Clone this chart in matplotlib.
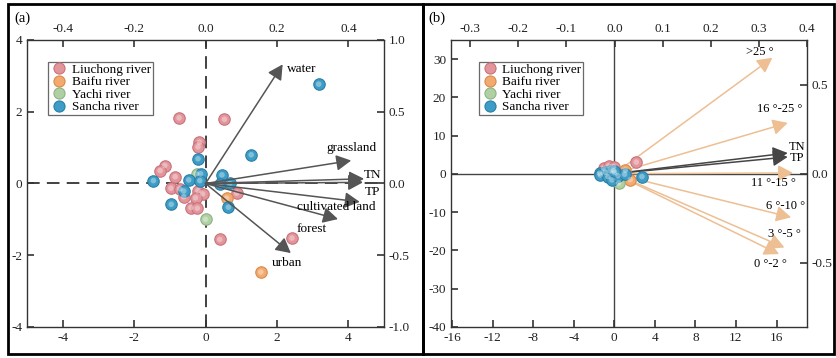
import matplotlib
matplotlib.use('Agg')
import matplotlib.pyplot as plt
from matplotlib.lines import Line2D
from matplotlib.patches import Rectangle

plt.rcParams['font.family'] = ['Liberation Serif', 'DejaVu Serif']
plt.rcParams['axes.unicode_minus'] = False

# ---- data ----
rivers = ['Liuchong river', 'Baifu river', 'Yachi river', 'Sancha river']
river_colors = ['#E3959C', '#F2AA6E', '#AFD0A2', '#3E9DC6']
river_edges = ['#C9737B', '#D98A4C', '#8FB383', '#2A7FA6']

# panel (a) sample scores (x, y)
a_liuchong_x = [-0.74, 0.53, -0.17, -0.21, -1.14, -1.27, -0.85, -0.97, -0.72, -0.61, -0.21, -0.08, -0.28, 0.87, -0.41, -0.23, 0.40, 2.42]
a_liuchong_y = [1.83, 1.79, 1.15, 1.02, 0.50, 0.36, 0.19, -0.13, -0.15, -0.37, -0.20, -0.29, -0.40, -0.27, -0.67, -0.69, -1.56, -1.52]
a_baifu_x = [0.59, 1.55]
a_baifu_y = [-0.41, -2.47]
a_yachi_x = [-0.25, 0.00]
a_yachi_y = [0.27, -1.00]
a_sancha_x = [-0.21, 1.28, 3.17, -0.14, 0.46, -1.46, -0.47, -0.16, 0.40, 0.68, -0.61, -0.96, 0.64]
a_sancha_y = [0.69, 0.80, 2.77, 0.27, 0.24, 0.08, 0.10, 0.08, -0.01, 0.00, -0.21, -0.58, -0.66]

# panel (a) loadings
a_vars = ['water', 'grassland', 'TN', 'TP', 'cultivated land', 'forest', 'urban']
a_load_x = [0.216, 0.408, 0.444, 0.441, 0.432, 0.371, 0.239]
a_load_y = [0.83, 0.16, 0.033, 0.008, -0.128, -0.248, -0.485]

# panel (b) sample scores
b_liuchong_x = [-1.06, -0.56, -0.07, 2.17]
b_liuchong_y = [1.5, 2.1, 1.9, 3.1]
b_baifu_x = [1.09, 1.58]
b_baifu_y = [1.0, -1.5]
b_yachi_x = [0.43]
b_yachi_y = [-2.4]
b_sancha_x = [-1.45, -1.38, -0.89, -0.39, 0.03, -0.62, -0.23, 0.37, 1.02, 2.73, -0.07]
b_sancha_y = [0.2, -0.26, 0.44, 0.78, 0.44, -0.7, -1.57, -0.44, -0.08, -0.7, 0.8]

# panel (b) loadings
b_vars = ['>25 °', '16 °-25 °', 'TN', 'TP', '11 °-15 °', '6 °-10 °', '3 °-5 °', '0 °-2 °']
b_load_x = [0.328, 0.360, 0.360, 0.360, 0.371, 0.367, 0.353, 0.342]
b_load_y = [0.650, 0.285, 0.116, 0.094, 0.004, -0.245, -0.414, -0.451]
b_colors = ['#EDBF93', '#EDBF93', '#454545', '#454545', '#EDBF93', '#EDBF93', '#EDBF93', '#EDBF93']


def spheres(ax, x, y, color, edge):
    ax.scatter(x, y, s=68, color=color, edgecolors=edge, linewidths=0.8, zorder=3)
    ax.scatter(x, y, s=16, color='white', alpha=0.35, edgecolors='none', zorder=4)


def style(ax):
    for s in ax.spines.values():
        s.set_color('#333333')
        s.set_linewidth(1.0)
    ax.tick_params(direction='in', length=5, width=1.2, colors='#333333', labelsize=9.5, labelcolor='#222222')


fig = plt.figure(figsize=(8.37, 3.58), dpi=100)

# ---------- panel (a) ----------
rect_a = [0.0323, 0.0866, 0.4265, 0.8017]
ax = fig.add_axes(rect_a)
ax.set_xlim(-5, 5)
ax.set_ylim(-4, 4)
ax.set_xticks([-4, -2, 0, 2, 4])
ax.set_yticks([-4, -2, 0, 2, 4])
style(ax)
ax.axhline(0, color='#333333', lw=1.3, dashes=(7, 4), zorder=1)
ax.axvline(0, color='#333333', lw=1.3, dashes=(7, 4), zorder=1)
for xs, ys, c, e in [(a_liuchong_x, a_liuchong_y, river_colors[0], river_edges[0]),
                     (a_baifu_x, a_baifu_y, river_colors[1], river_edges[1]),
                     (a_yachi_x, a_yachi_y, river_colors[2], river_edges[2]),
                     (a_sancha_x, a_sancha_y, river_colors[3], river_edges[3])]:
    spheres(ax, xs, ys, c, e)

axa2 = fig.add_axes(rect_a, frameon=False)
axa2.set_xlim(-0.5, 0.5)
axa2.set_ylim(-1, 1)
axa2.xaxis.tick_top()
axa2.yaxis.tick_right()
axa2.set_xticks([-0.4, -0.2, 0.0, 0.2, 0.4])
axa2.set_yticks([-1.0, -0.5, 0.0, 0.5, 1.0])
axa2.set_xticklabels(['-0.4', '-0.2', '0.0', '0.2', '0.4'])
axa2.set_yticklabels(['-1.0', '-0.5', '0.0', '0.5', '1.0'])
style(axa2)
a_offsets = [(14, -3), (0, 9), (6, 3), (7, -7), (-17, -4), (-19, -7), (-3, -7)]
for name, lx, ly, off in zip(a_vars, a_load_x, a_load_y, a_offsets):
    axa2.annotate('', xy=(lx, ly), xytext=(0, 0),
                  arrowprops=dict(arrowstyle='-|>,head_length=0.45,head_width=0.24', mutation_scale=20,
                                  color='#555555', lw=1.1, shrinkA=0, shrinkB=0), zorder=5)
    axa2.annotate(name, xy=(lx, ly), xytext=off, textcoords='offset points',
                  ha='center', va='center', fontsize=9.5, zorder=6)

handles = [Line2D([], [], marker='o', ls='none', color=c, markersize=8, markeredgecolor=e, markeredgewidth=0.8)
           for c, e in zip(river_colors, river_edges)]
leg = axa2.legend(handles, rivers, loc='upper left', bbox_to_anchor=(0.06, 0.925), fontsize=9.5,
                  frameon=True, fancybox=False, edgecolor='#444444', borderpad=0.15,
                  labelspacing=0.02, handletextpad=0.3, handlelength=1.3, borderaxespad=0)
leg.get_frame().set_linewidth(0.9)

# ---------- panel (b) ----------
rect_b = [0.5388, 0.0866, 0.4253, 0.8017]
bx = fig.add_axes(rect_b)
bx.set_xlim(-16.1, 19.0)
bx.set_ylim(-40, 35)
bx.set_xticks([-16, -12, -8, -4, 0, 4, 8, 12, 16])
bx.set_yticks([-40, -30, -20, -10, 0, 10, 20, 30])
style(bx)
bx.axhline(0, color='#444444', lw=1.0, zorder=1)
bx.axvline(0, color='#444444', lw=1.0, zorder=1)

bxa2 = fig.add_axes(rect_b, frameon=False)
bxa2.set_xlim(-0.34, 0.40)
bxa2.set_ylim(-0.86, 0.75)
bxa2.xaxis.tick_top()
bxa2.yaxis.tick_right()
bxa2.set_xticks([-0.3, -0.2, -0.1, 0.0, 0.1, 0.2, 0.3, 0.4])
bxa2.set_xticklabels(['-0.3', '-0.2', '-0.1', '0.0', '0.1', '0.2', '0.3', '0.4'])
bxa2.set_yticks([-0.5, 0.0, 0.5])
bxa2.set_yticklabels(['-0.5', '0.0', '0.5'])
style(bxa2)
b_offsets = [(-9, 4), (-6, 10), (7, 4), (7, -1), (-14, -7), (-4, 8), (0, 10), (-6, -7)]
for name, lx, ly, c, off in zip(b_vars, b_load_x, b_load_y, b_colors, b_offsets):
    bxa2.annotate('', xy=(lx, ly), xytext=(0, 0),
                  arrowprops=dict(arrowstyle='-|>,head_length=0.45,head_width=0.24', mutation_scale=20,
                                  color=c, lw=1.1, shrinkA=0, shrinkB=0), zorder=2)
    bxa2.annotate(name, xy=(lx, ly), xytext=off, textcoords='offset points',
                  ha='center', va='center', fontsize=9, zorder=6)

# points drawn on a top overlay sharing the score scale
bxa3 = fig.add_axes(rect_b, frameon=False)
bxa3.set_xlim(bx.get_xlim())
bxa3.set_ylim(bx.get_ylim())
bxa3.axis('off')
for xs, ys, c, e in [(b_liuchong_x, b_liuchong_y, river_colors[0], river_edges[0]),
                     (b_baifu_x, b_baifu_y, river_colors[1], river_edges[1]),
                     (b_yachi_x, b_yachi_y, river_colors[2], river_edges[2]),
                     (b_sancha_x, b_sancha_y, river_colors[3], river_edges[3])]:
    spheres(bxa3, xs, ys, c, e)
leg = bxa3.legend(handles, rivers, loc='upper left', bbox_to_anchor=(0.079, 0.925), fontsize=9.5,
                  frameon=True, fancybox=False, edgecolor='#444444', borderpad=0.15,
                  labelspacing=0.02, handletextpad=0.3, handlelength=1.3, borderaxespad=0)
leg.get_frame().set_linewidth(0.9)

# frames and panel labels
fig.add_artist(Rectangle((8 / 837, 4 / 358), 415 / 837, 350 / 358, transform=fig.transFigure,
                         fill=False, edgecolor='black', lw=2))
fig.add_artist(Rectangle((423 / 837, 4 / 358), 411 / 837, 350 / 358, transform=fig.transFigure,
                         fill=False, edgecolor='black', lw=2))
fig.text(14 / 837, 1 - 18 / 358, '(a)', fontsize=10.5, va='center', ha='left')
fig.text(428 / 837, 1 - 18 / 358, '(b)', fontsize=10.5, va='center', ha='left')

fig.savefig('out.png', dpi=100)
